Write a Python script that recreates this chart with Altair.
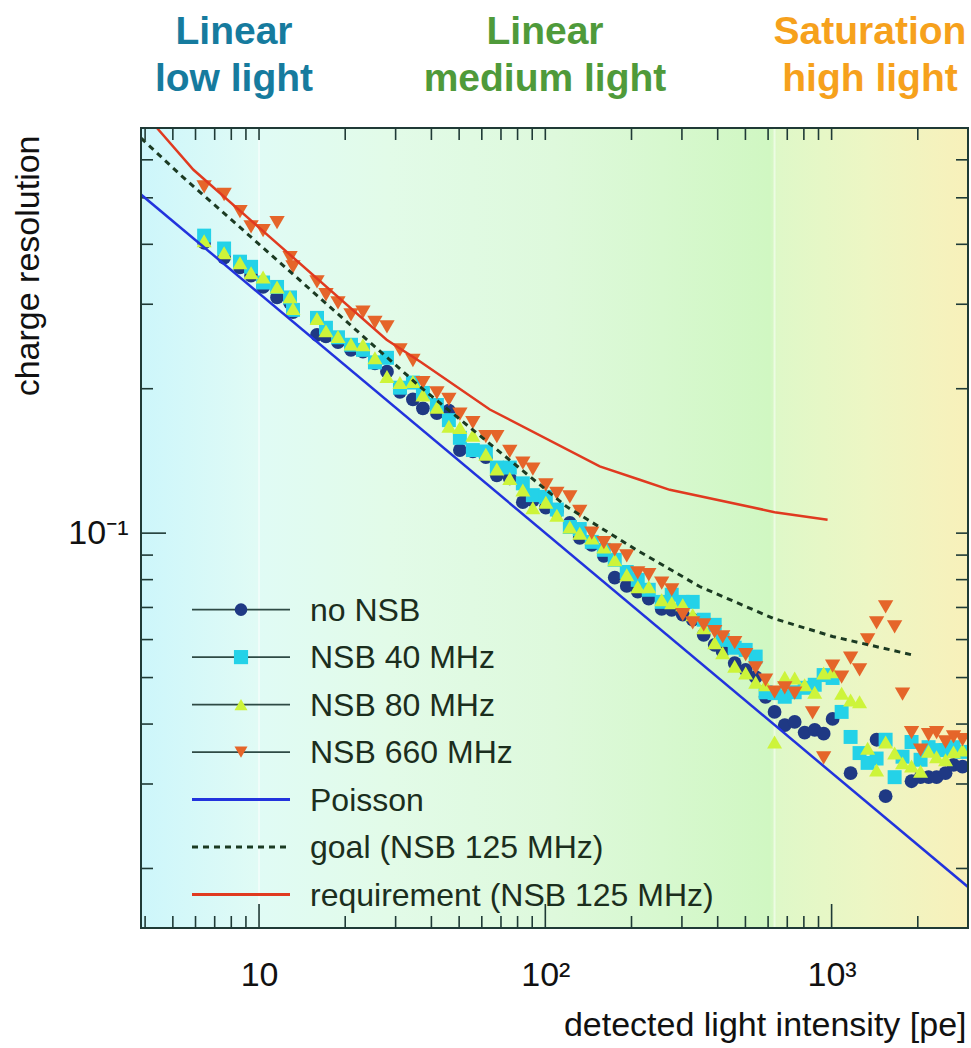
import altair as alt
import pandas as pd

# ---------------- data ----------------
X_DOMAIN = [3.87, 2995]
Y_DOMAIN = [0.01503, 0.699]

# intensities shared by all four series (low / medium light part)
x_lo = [6.43, 7.55, 8.58, 9.38, 10.33, 11.56, 12.83, 13.14, 15.94, 17.13, 18.87,
        20.95, 23.07, 25.40, 27.98, 31.06, 34.47, 37.36, 41.81, 46.04, 50.30,
        55.83, 61.98, 67.71, 75.15, 83.45, 90.46, 100.4, 109.7, 121.8, 131.9,
        145.3, 160.1, 174.8, 192.5, 210.3, 229.8, 255.0, 276.4, 302.0, 327.2,
        357.5, 390.5, 416.4, 458.6, 501.0, 543.0]

# no NSB
n_lo_y = [0.403, 0.375, 0.358, 0.344, 0.326, 0.310, 0.302, 0.289, 0.259, 0.257, 0.250,
          0.241, 0.239, 0.226, 0.217, 0.197, 0.190, 0.182, 0.178, 0.180, 0.149,
          0.148, 0.144, 0.132, 0.130, 0.116, 0.117, 0.113, 0.111, 0.105, 0.0978,
          0.0945, 0.0897, 0.0808, 0.0776, 0.0755, 0.0730, 0.0695, 0.0692, 0.0676, 0.0660,
          0.0614, 0.0585, 0.0566, 0.0536, 0.0519, 0.0501]
n_hi_x = [588, 632, 686, 743, 805, 873, 938, 1008, 1165, 1436, 1544, 1902, 2045,
          2181, 2326, 2500, 2666, 2866]
n_hi_y = [0.0456, 0.0424, 0.0398, 0.0404, 0.0384, 0.0389, 0.0382, 0.0410, 0.0316,
          0.0371, 0.0283, 0.0304, 0.0310, 0.0310, 0.0310, 0.0316, 0.0329, 0.0326]

# NSB 40 MHz
c_lo_y = [0.417, 0.392, 0.368, 0.359, 0.333, 0.326, 0.310, 0.292, 0.281, 0.268, 0.256,
          0.247, 0.241, 0.227, 0.232, 0.201, 0.206, 0.196, 0.185, 0.172, 0.158,
          0.149, 0.148, 0.137, 0.137, 0.127, 0.120, 0.119, 0.112, 0.103, 0.102,
          0.0959, 0.0923, 0.0880, 0.0830, 0.0799, 0.0762, 0.0719, 0.0744, 0.0719, 0.0719,
          0.0660, 0.0644, 0.0599, 0.0577, 0.0571, 0.0553]
c_hi_x = [588, 632, 686, 743, 805, 873, 938, 1008, 1084, 1165, 1252, 1336, 1436,
          1544, 1660, 1769, 1902, 2045, 2181, 2326, 2500, 2666, 2866]
c_hi_y = [0.0466, 0.0464, 0.0456, 0.0466, 0.0476, 0.0483, 0.0506, 0.0499, 0.0424,
          0.0376, 0.0348, 0.0332, 0.0339, 0.0371, 0.0310, 0.0342, 0.0367, 0.0337,
          0.0358, 0.0353, 0.0353, 0.0358, 0.0350]

# NSB 80 MHz
y_lo_y = [0.407, 0.384, 0.366, 0.349, 0.342, 0.326, 0.311, 0.294, 0.280, 0.264, 0.257,
          0.248, 0.247, 0.232, 0.212, 0.206, 0.207, 0.194, 0.183, 0.167, 0.166,
          0.160, 0.146, 0.136, 0.130, 0.123, 0.113, 0.116, 0.109, 0.103, 0.100,
          0.0977, 0.0936, 0.0880, 0.0819, 0.0773, 0.0773, 0.0726, 0.0716, 0.0709, 0.0676,
          0.0635, 0.0591, 0.0563, 0.0528, 0.0511, 0.0489]
y_hi_x = [588, 632, 686, 743, 805, 873, 938, 1008, 1084, 1165, 1252, 1336, 1436,
          1544, 1660, 1769, 1902, 2045, 2181, 2326, 2500, 2666, 2866]
y_hi_y = [0.0483, 0.0367, 0.0501, 0.0499, 0.0483, 0.0466, 0.0511, 0.0514, 0.0464,
          0.0449, 0.0445, 0.0356, 0.0321, 0.0367, 0.0348, 0.0332, 0.0327, 0.0319,
          0.0351, 0.0342, 0.0337, 0.0350, 0.0353]

# NSB 660 MHz
o_lo_y = [0.527, 0.508, 0.468, 0.435, 0.427, 0.444, 0.375, 0.359, 0.334, 0.314, 0.302,
          0.285, 0.289, 0.275, 0.269, 0.241, 0.229, 0.206, 0.196, 0.190, 0.177,
          0.170, 0.159, 0.159, 0.148, 0.140, 0.136, 0.126, 0.121, 0.119, 0.111,
          0.100, 0.0955, 0.0923, 0.0897, 0.0826, 0.0819, 0.0787, 0.0762, 0.0676, 0.0650,
          0.0644, 0.0623, 0.0608, 0.0591, 0.0558, 0.0524]
o_hi_x = [588, 632, 686, 743, 858, 938, 1008, 1084, 1165, 1252, 1336, 1436, 1544,
          1660, 1769, 1902, 2045, 2181, 2326, 2500, 2666, 2866]
o_hi_y = [0.0494, 0.0466, 0.0476, 0.0464, 0.0422, 0.0340, 0.0528, 0.0501, 0.0549,
          0.0519, 0.0599, 0.0650, 0.0702, 0.0638, 0.0462, 0.0384, 0.0353, 0.0380,
          0.0384, 0.0367, 0.0376, 0.0371]

# reference curves
poisson_x = [3.87, 2995]
poisson_y = [0.508, 0.0183]
goal_x = [3.87, 5.30, 9.92, 36.5, 118.6, 208, 346, 623, 1007, 1950]
goal_y = [0.666, 0.559, 0.402, 0.202, 0.1136, 0.0923, 0.0774, 0.0665, 0.0609, 0.0556]
req_x = [4.40, 5.90, 27.9, 36.5, 64.0, 154.9, 213.7, 272.1, 632.4, 968]
req_y = [0.699, 0.572, 0.253, 0.228, 0.181, 0.1378, 0.1292, 0.1231, 0.1106, 0.1066]

# axes ticks and region boundaries
x_major = [10, 100, 1000]
x_minor = [4, 5, 6, 7, 8, 9, 20, 30, 40, 50, 60, 70, 80, 90,
           200, 300, 400, 500, 600, 700, 800, 900, 2000]
y_major = [0.1]
y_minor = [0.02, 0.03, 0.04, 0.05, 0.06, 0.07, 0.08, 0.09, 0.2, 0.3, 0.4, 0.5, 0.6]
region_bounds = [10, 632]

legend_labels = ["no NSB", "NSB 40 MHz", "NSB 80 MHz", "NSB 660 MHz",
                 "Poisson", "goal (NSB 125 MHz)", "requirement (NSB 125 MHz)"]
region_titles = [["Linear", "low light"], ["Linear", "medium light"],
                 ["Saturation", "high light"]]

# ---------------- style ----------------
W, H = 827, 800
FONT = "Liberation Sans, Helvetica, Arial, sans-serif"
AX = "#1f3a36"
TXT = "#111111"
C_N, C_C, C_Y, C_O = "#1f3984", "#24d2e8", "#cdf43a", "#e5652a"
C_POIS, C_GOAL, C_REQ = "#2233dd", "#1b3a22", "#e03a20"

xs = alt.Scale(type="log", domain=X_DOMAIN, nice=False)
ys = alt.Scale(type="log", domain=Y_DOMAIN, nice=False)

xax = alt.Axis(values=x_major,
               labelExpr="datum.value == 10 ? '10' : datum.value == 100 ? '10²' : '10³'",
               ticks=False, domain=False, grid=False,
               labelFont=FONT, labelFontSize=34, labelColor=TXT,
               labelPadding=57, labelBaseline="alphabetic",
               title="detected light intensity [pe]", titleFont=FONT, titleFontSize=34,
               titleFontWeight="normal", titleColor=TXT, titleX=825, titleY=107,
               titleAlign="right", titleAnchor="end", titleBaseline="alphabetic")
yax = alt.Axis(values=y_major, labelExpr="'10⁻¹'",
               ticks=False, domain=False, grid=False,
               labelFont=FONT, labelFontSize=34, labelColor=TXT,
               labelPadding=13, labelBaseline="middle", labelAlign="right",
               title="charge resolution", titleFont=FONT, titleFontSize=34,
               titleFontWeight="normal", titleColor=TXT, titleAngle=270,
               titleX=-103, titleY=7, titleAlign="right", titleBaseline="alphabetic")

one = pd.DataFrame({"k": [0]})

bg_offsets = [0.0, 0.14, 0.30, 0.50, 0.76, 0.77, 0.88, 1.0]
bg_colors = ["#cdf6fb", "#e0fbf5", "#e2fbe8", "#def9dc", "#d0f7c2", "#dff8c8",
             "#edf6c4", "#f8f0ba"]
bg = alt.Chart(one).mark_rect(
    fill=alt.Gradient(gradient="linear",
                      stops=[alt.GradientStop(offset=o, color=c) for o, c in zip(bg_offsets, bg_colors)],
                      x1=0, x2=1, y1=0, y2=0)
).encode(x=alt.value(0), x2=alt.value(W), y=alt.value(0), y2=alt.value(H))

bounds = alt.Chart(pd.DataFrame({"b": region_bounds})).mark_rule(
    color="white", strokeWidth=2, opacity=0.5
).encode(x=alt.X("b:Q", scale=xs, axis=xax))


def xticks(vals, y0, y1):
    return alt.Chart(pd.DataFrame({"t": vals})).mark_rule(color=AX, strokeWidth=1.6).encode(
        x=alt.X("t:Q", scale=xs, axis=xax), y=alt.value(y0), y2=alt.value(y1))


def yticks(vals, x0, x1):
    return alt.Chart(pd.DataFrame({"t": vals})).mark_rule(color=AX, strokeWidth=1.6).encode(
        y=alt.Y("t:Q", scale=ys, axis=yax), x=alt.value(x0), x2=alt.value(x1))


ticks = [
    xticks(x_minor, H, H - 12), xticks(x_major, H, H - 24),
    xticks(x_minor + x_major, 0, 12),
    yticks(y_minor, 0, 12), yticks(y_major, 0, 25),
    yticks(y_minor + y_major, W, W - 12),
]


def curve(xv, yv, color, width, dash=None):
    kw = dict(color=color, strokeWidth=width, clip=True)
    if dash:
        kw["strokeDash"] = dash
    return alt.Chart(pd.DataFrame({"x": xv, "y": yv})).mark_line(**kw).encode(
        x=alt.X("x:Q", scale=xs, axis=xax), y=alt.Y("y:Q", scale=ys, axis=yax))


def points(xv, yv, color, shape, size):
    return alt.Chart(pd.DataFrame({"x": xv, "y": yv})).mark_point(
        shape=shape, filled=True, size=size, color=color, opacity=1, strokeWidth=0, clip=True
    ).encode(x=alt.X("x:Q", scale=xs, axis=xax), y=alt.Y("y:Q", scale=ys, axis=yax))


series = [
    points(x_lo + n_hi_x, n_lo_y + n_hi_y, C_N, "circle", 190),
    points(x_lo + c_hi_x, c_lo_y + c_hi_y, C_C, "square", 195),
    points(x_lo + y_hi_x, y_lo_y + y_hi_y, C_Y, "triangle-up", 225),
    points(x_lo + o_hi_x, o_lo_y + o_hi_y, C_O, "triangle-down", 235),
]
curves = [
    curve(poisson_x, poisson_y, C_POIS, 2.5),
    curve(goal_x, goal_y, C_GOAL, 3, [6, 5]),
    curve(req_x, req_y, C_REQ, 2.5),
]

frame = alt.Chart(one).mark_rect(fillOpacity=0, stroke=AX, strokeWidth=2).encode(
    x=alt.value(0), x2=alt.value(W), y=alt.value(0), y2=alt.value(H))

# legend (inside the plot, lower left)
leg = []
LY0, LDY = 481.6, 47.5
leg_marks = [(C_N, "circle", 160), (C_C, "square", 200), (C_Y, "triangle-up", 170),
             (C_O, "triangle-down", 170)]
leg_lines = [(C_POIS, 3, None), (C_GOAL, 3, [6, 5]), (C_REQ, 3, None)]
for i, lab in enumerate(legend_labels):
    yy = LY0 + LDY * i
    if i < 4:
        leg.append(alt.Chart(one).mark_rule(color="#2e4a44", strokeWidth=1.6).encode(
            x=alt.value(51), x2=alt.value(149), y=alt.value(yy)))
        col, shp, sz = leg_marks[i]
        leg.append(alt.Chart(one).mark_point(shape=shp, filled=True, size=sz, color=col,
                                             opacity=1, strokeWidth=0).encode(
            x=alt.value(100), y=alt.value(yy)))
    else:
        col, wd, dash = leg_lines[i - 4]
        kw = dict(color=col, strokeWidth=wd)
        if dash:
            kw["strokeDash"] = dash
        leg.append(alt.Chart(one).mark_rule(**kw).encode(
            x=alt.value(51), x2=alt.value(149), y=alt.value(yy)))
    leg.append(alt.Chart(one).mark_text(font=FONT, fontSize=32, color="#1b2e1d",
                                        align="left", baseline="middle").encode(
        x=alt.value(169), y=alt.value(yy + 1), text=alt.value(lab)))

# region titles above the plot
tit = []
title_cx = [93, 404, 729]
title_col = ["#167b9e", "#4f9a3a", "#f6a11c"]
for (l1, l2), cx, col in zip(region_titles, title_cx, title_col):
    for txt, yb in ((l1, -84), (l2, -37)):
        tit.append(alt.Chart(one).mark_text(font=FONT, fontSize=39, fontWeight="bold",
                                            color=col, align="center",
                                            baseline="alphabetic").encode(
            x=alt.value(cx), y=alt.value(yb), text=alt.value(txt)))

chart = alt.layer(bg, bounds, *ticks, *series, *curves, frame, *leg, *tit).properties(
    width=W, height=H,
    padding={"left": 141, "top": 128, "right": 3, "bottom": 120},
    autosize=alt.AutoSizeParams(type="none"),
).configure_view(strokeWidth=0)

chart.save("out.html", embed_options={"renderer": "svg", "actions": False})
